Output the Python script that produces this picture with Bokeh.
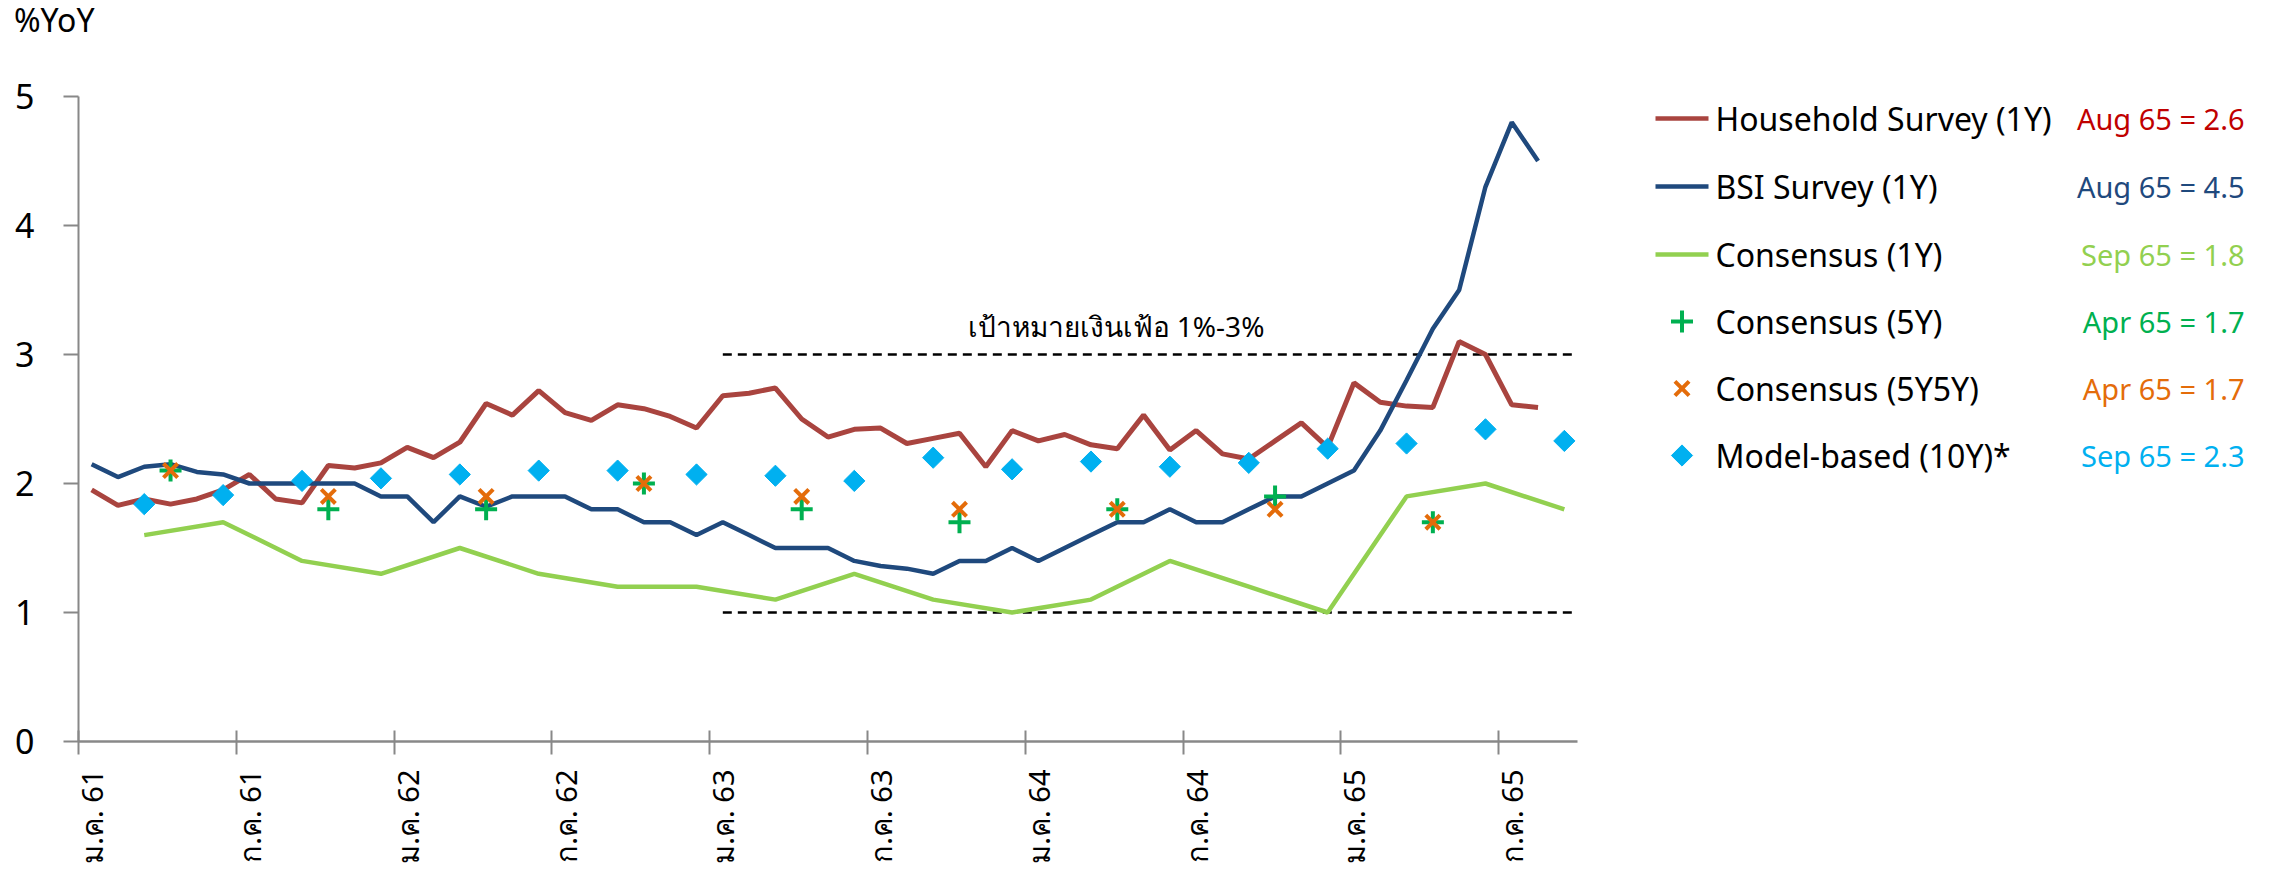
import math
from bokeh.plotting import figure
from bokeh.layouts import row, column
from bokeh.models import Range1d, FixedTicker, Label, ColumnDataSource, Div
from bokeh.embed import file_html
from bokeh.resources import INLINE
from bokeh.core.properties import value

# ---------------- data (monthly, index 0 = ม.ค. 61 ... 56 = ก.ย. 65) ----------------
n_months = 57
household = [1.95, 1.83, 1.88, 1.84, 1.88, 1.95, 2.07, 1.88, 1.85, 2.14, 2.12, 2.16,
             2.28, 2.20, 2.32, 2.62, 2.53, 2.72, 2.55, 2.49, 2.61, 2.58, 2.52, 2.43,
             2.68, 2.70, 2.74, 2.50, 2.36, 2.42, 2.43, 2.31, 2.35, 2.39, 2.13, 2.41,
             2.33, 2.38, 2.30, 2.27, 2.53, 2.26, 2.41, 2.23, 2.19, 2.33, 2.47, 2.28,
             2.78, 2.63, 2.60, 2.59, 3.10, 3.00, 2.61, 2.59]
bsi = [2.15, 2.05, 2.13, 2.15, 2.09, 2.07, 2.00, 2.00, 2.00, 2.00, 2.00, 1.90,
       1.90, 1.70, 1.90, 1.82, 1.90, 1.90, 1.90, 1.80, 1.80, 1.70, 1.70, 1.60,
       1.70, 1.60, 1.50, 1.50, 1.50, 1.40, 1.36, 1.34, 1.30, 1.40, 1.40, 1.50,
       1.40, 1.50, 1.60, 1.70, 1.70, 1.80, 1.70, 1.70, 1.80, 1.90, 1.90, 2.00,
       2.10, 2.41, 2.80, 3.20, 3.50, 4.30, 4.80, 4.50]
quarter_idx = [2, 5, 8, 11, 14, 17, 20, 23, 26, 29, 32, 35, 38, 41, 44, 47, 50, 53, 56]
consensus_1y = [1.6, 1.7, 1.4, 1.3, 1.5, 1.3, 1.2, 1.2, 1.1, 1.3, 1.1, 1.0, 1.1, 1.4,
                1.2, 1.0, 1.9, 2.0, 1.8]
model_10y = [1.84, 1.91, 2.02, 2.04, 2.07, 2.10, 2.10, 2.07, 2.06, 2.02, 2.20, 2.11,
             2.17, 2.13, 2.16, 2.27, 2.31, 2.42, 2.33]
half_idx = [3, 9, 15, 21, 27, 33, 39, 45, 51]
consensus_5y = [2.1, 1.8, 1.8, 2.0, 1.8, 1.7, 1.8, 1.9, 1.7]
consensus_5y5y = [2.1, 1.9, 1.9, 2.0, 1.9, 1.8, 1.8, 1.8, 1.7]

tick_months = [0, 6, 12, 18, 24, 30, 36, 42, 48, 54]
tick_labels = ["ม.ค. 61", "ก.ค. 61", "ม.ค. 62", "ก.ค. 62", "ม.ค. 63",
               "ก.ค. 63", "ม.ค. 64", "ก.ค. 64", "ม.ค. 65", "ก.ค. 65"]
month_abbr = ["Jan", "Feb", "Mar", "Apr", "May", "Jun", "Jul", "Aug", "Sep", "Oct", "Nov", "Dec"]
target_low, target_high = 1, 3
target_start = 24  # ม.ค. 63
target_text = "เป้าหมายเงินเฟ้อ 1%-3%"
y_title = "%YoY"

names = ["Household Survey (1Y)", "BSI Survey (1Y)", "Consensus (1Y)",
         "Consensus (5Y)", "Consensus (5Y5Y)", "Model-based (10Y)*"]
colors = ["#A9443F", "#1F497D", "#92D050", "#00B050", "#E46C0A", "#00B0F0"]
value_colors = ["#C00000", "#1F497D", "#92D050", "#00B050", "#E46C0A", "#00B0F0"]

FONT = "Noto Sans"
TOP_H = 40          # height of the "%YoY" strip
BORDER_TOP = 56     # 40 + 56 -> plot frame starts at y = 96
BORDER_BOTTOM = 131
FRAME_H = 645


def mlabel(i):
    return f"{month_abbr[i % 12]} {61 + i // 12}"


def cx(idx):
    return [i + 0.5 for i in idx]


# ---------------- "%YoY" strip ----------------
title_div = Div(text=y_title, width=1582, height=TOP_H, margin=0,
                styles={"font-family": FONT, "font-size": "32px", "line-height": "40px",
                        "padding-left": "14px", "color": "black", "white-space": "nowrap"})

# ---------------- main chart ----------------
p = figure(frame_width=1499, frame_height=FRAME_H, x_range=Range1d(0, n_months),
           y_range=Range1d(0, 5), output_backend="svg", toolbar_location=None,
           min_border_left=78, min_border_top=BORDER_TOP, min_border_right=5,
           min_border_bottom=BORDER_BOTTOM)
p.outline_line_color = None
p.grid.visible = False

xa = p.xaxis[0]
xa.ticker = FixedTicker(ticks=cx(tick_months), minor_ticks=tick_months)
xa.major_label_overrides = {t + 0.5: l for t, l in zip(tick_months, tick_labels)}
xa.major_label_orientation = math.pi / 2
xa.major_tick_in = 0
xa.major_tick_out = 13
xa.major_tick_line_color = None
xa.minor_tick_in = 11
xa.minor_tick_out = 13
xa.minor_tick_line_color = "#888888"
xa.minor_tick_line_width = 2
xa.axis_line_color = "#888888"
xa.axis_line_width = 2.5
xa.major_label_text_font = FONT
xa.major_label_text_font_size = "29px"
xa.major_label_text_color = "black"
xa.major_label_standoff = 15

ya = p.yaxis[0]
ya.ticker = FixedTicker(ticks=[0, 1, 2, 3, 4, 5])
ya.major_tick_in = 0
ya.major_tick_out = 15
ya.minor_tick_line_color = None
ya.axis_line_color = "#888888"
ya.axis_line_width = 2
ya.major_tick_line_color = "#888888"
ya.major_tick_line_width = 2
ya.major_label_text_font = FONT
ya.major_label_text_font_size = "34px"
ya.major_label_text_color = "black"
ya.major_label_standoff = 29

# target band 1%-3%
for lvl in (target_high, target_low):
    p.line([target_start + 0.5, n_months], [lvl, lvl], line_color="black",
           line_width=2.5, line_dash="9 6")

p.line(cx(range(len(household))), household, line_color=colors[0], line_width=5)
p.line(cx(range(len(bsi))), bsi, line_color=colors[1], line_width=4.5)
p.line(cx(quarter_idx), consensus_1y, line_color=colors[2], line_width=4.5)
p.scatter(cx(quarter_idx), model_10y, marker="square", size=15, angle=math.pi / 4,
          fill_color=colors[5], line_color=colors[5])
p.scatter(cx(half_idx), consensus_5y, marker="cross", size=22,
          line_color=colors[3], line_width=4)
p.scatter(cx(half_idx), consensus_5y5y, marker="x", size=20,
          line_color=colors[4], line_width=4)

p.add_layout(Label(x=39.45, y=3.22, text=target_text, text_align="center",
                   text_baseline="middle", text_font=FONT,
                   text_font_size="28px", text_color="black"))

# ---------------- legend panel (coordinates are page pixels) ----------------
p2 = figure(width=694, frame_height=FRAME_H, x_range=Range1d(1582, 2276),
            y_range=Range1d(741, 96), output_backend="svg", toolbar_location=None,
            min_border_left=0, min_border_right=0, min_border_top=BORDER_TOP,
            min_border_bottom=BORDER_BOTTOM, x_axis_type=None, y_axis_type=None)
p2.outline_line_color = None
p2.grid.visible = False

row_y = [118, 186, 254, 321, 388, 455]
sample_x0, sample_x1 = 1655, 1708
sample_xc = (sample_x0 + sample_x1) / 2
for k in range(3):
    p2.segment(x0=[sample_x0], x1=[sample_x1], y0=[row_y[k]], y1=[row_y[k]],
               line_color=colors[k], line_width=4.5)
p2.scatter([sample_xc], [row_y[3]], marker="cross", size=22, line_color=colors[3],
           line_width=4)
p2.scatter([sample_xc], [row_y[4]], marker="x", size=20, line_color=colors[4],
           line_width=4)
p2.scatter([sample_xc], [row_y[5]], marker="square", size=15, angle=math.pi / 4,
           fill_color=colors[5], line_color=colors[5])

p2.text(x=[1715] * len(names), y=row_y, text=names, text_baseline="middle",
        text_align="left", text_font=value(FONT), text_font_size="32px",
        text_color="black")

latest = [(len(household) - 1, household[-1]), (len(bsi) - 1, bsi[-1]),
          (quarter_idx[-1], consensus_1y[-1]), (half_idx[-1], consensus_5y[-1]),
          (half_idx[-1], consensus_5y5y[-1]), (quarter_idx[-1], model_10y[-1])]
val_src = ColumnDataSource(dict(
    x=[2244] * len(latest), y=row_y,
    t=[f"{mlabel(mi)} = {v:.1f}" for mi, v in latest], c=value_colors))
p2.text(x="x", y="y", text="t", text_color="c", source=val_src, text_baseline="middle",
        text_align="right", text_font=value(FONT), text_font_size="29px")

layout = column(title_div, row(p, p2, spacing=0), spacing=0)
open("out.html", "w").write(file_html(layout, INLINE))
